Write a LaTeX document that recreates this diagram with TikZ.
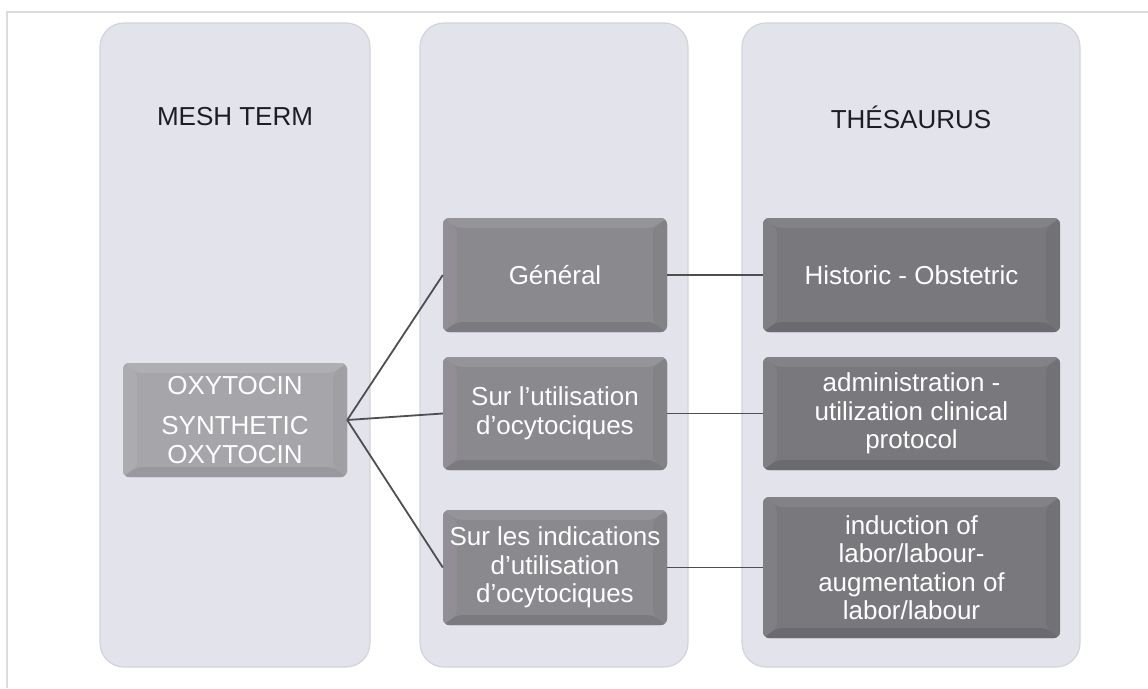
\documentclass[tikz,border=0pt]{standalone}
\usepackage{fontspec}
\setmainfont{Liberation Sans}
\definecolor{colbg}{HTML}{E2E3EB}
\definecolor{colborder}{HTML}{D3D3DA}
\definecolor{frameline}{HTML}{DCDCDC}
\definecolor{headtxt}{HTML}{1E1E22}
\definecolor{ctwoface}{HTML}{8A898E}
\definecolor{ctwotop}{HTML}{959499}
\definecolor{ctwoleft}{HTML}{918F95}
\definecolor{ctwobot}{HTML}{7B7A7F}
\definecolor{ctworight}{HTML}{838287}
\definecolor{cthreeface}{HTML}{79787D}
\definecolor{cthreetop}{HTML}{838287}
\definecolor{cthreeleft}{HTML}{807F84}
\definecolor{cthreebot}{HTML}{6B6A6F}
\definecolor{cthreeright}{HTML}{727176}
\definecolor{oxyface}{HTML}{A6A6AA}
\definecolor{oxytop}{HTML}{AFAFB3}
\definecolor{oxyleft}{HTML}{ACACB0}
\definecolor{oxybot}{HTML}{98989D}
\definecolor{oxyright}{HTML}{9F9FA4}
\definecolor{connline}{HTML}{4F4F52}
\begin{document}
\begin{tikzpicture}[x=1pt,y=-1pt,
  column/.style={draw=colborder, line width=1.2pt, fill=colbg, rounded corners=24pt, inner sep=0pt},
  header/.style={font=\fontsize{26}{30}\selectfont, text=headtxt},
  bevelbox/.style n args={5}{fill=#5, rounded corners=6pt, align=center, text=white,
     font=\fontsize{26}{28.5}\selectfont, inner sep=0pt,
     path picture={
       \coordinate (qa) at (path picture bounding box.north west);
       \coordinate (qb) at (path picture bounding box.north east);
       \coordinate (qc) at (path picture bounding box.south east);
       \coordinate (qd) at (path picture bounding box.south west);
       \coordinate (ia) at ([shift={(14pt,-10pt)}]qa);
       \coordinate (ib) at ([shift={(-14pt,-10pt)}]qb);
       \coordinate (ic) at ([shift={(-14pt,10pt)}]qc);
       \coordinate (id) at ([shift={(14pt,10pt)}]qd);
       \fill[#1] (qa) -- (qb) -- (ib) -- (ia) -- cycle;
       \fill[#2] (qa) -- (ia) -- (id) -- (qd) -- cycle;
       \fill[#3] (qd) -- (id) -- (ic) -- (qc) -- cycle;
       \fill[#4] (qb) -- (qc) -- (ic) -- (ib) -- cycle;
       \fill[#5] (ia) rectangle (ic);
     }},
  ctwobox/.style={bevelbox={ctwotop}{ctwoleft}{ctwobot}{ctworight}{ctwoface}},
  cthreebox/.style={bevelbox={cthreetop}{cthreeleft}{cthreebot}{cthreeright}{cthreeface}},
  oxybox/.style={bevelbox={oxytop}{oxyleft}{oxybot}{oxyright}{oxyface}},
  conn/.style={draw=connline, line width=1.8pt}
]
\useasboundingbox (0,0) rectangle (1148,688);
% frame lines
\coordinate (ftl) at (7,12);
\coordinate (ftr) at (1148,12);
\coordinate (fbl) at (7,688);
\draw[frameline, line width=1.5pt] (fbl) -- (ftl) -- (ftr);
% columns
\node[column, minimum width=270pt, minimum height=644pt] (col1) at (235,345) {};
\node[column, minimum width=268pt, minimum height=644pt] (col2) at (554,345) {};
\node[column, minimum width=338pt, minimum height=644pt] (col3) at (911,345) {};
% headers
\node[header] (h1) at (235,117) {MESH TERM};
\node[header] (h3) at (911,117) {THÉSAURUS};
% boxes
\node[oxybox, minimum width=224pt, minimum height=114pt] (oxy) at (235,420)
  {OXYTOCIN\\[12pt]SYNTHETIC\\OXYTOCIN};
\node[ctwobox, minimum width=224pt, minimum height=114pt] (gen) at (555,275) {Général};
\node[ctwobox, minimum width=224pt, minimum height=113pt] (sura) at (555,413.5)
  {Sur l’utilisation\\d’ocytociques};
\node[ctwobox, minimum width=224pt, minimum height=115pt] (surb) at (555,567.5)
  {Sur les indications\\d’utilisation\\d’ocytociques};
\node[cthreebox, minimum width=297pt, minimum height=114pt] (hist) at (911.5,275)
  {Historic - Obstetric};
\node[cthreebox, minimum width=297pt, minimum height=113pt] (admin) at (911.5,413.5)
  {administration -\\utilization clinical\\protocol};
\node[cthreebox, minimum width=297pt, minimum height=141pt] (induc) at (911.5,567.5)
  {induction of\\labor/labour-\\augmentation of\\labor/labour};
% connectors
\draw[conn] (oxy.east) -- (gen.west);
\draw[conn] (oxy.east) -- (sura.west);
\draw[conn] (oxy.east) -- (surb.west);
\draw[conn] (gen.east) -- (hist.west);
\draw[conn] (sura.east) -- (admin.west);
\draw[conn] (surb.east) -- (induc.west);
\end{tikzpicture}
\end{document}
